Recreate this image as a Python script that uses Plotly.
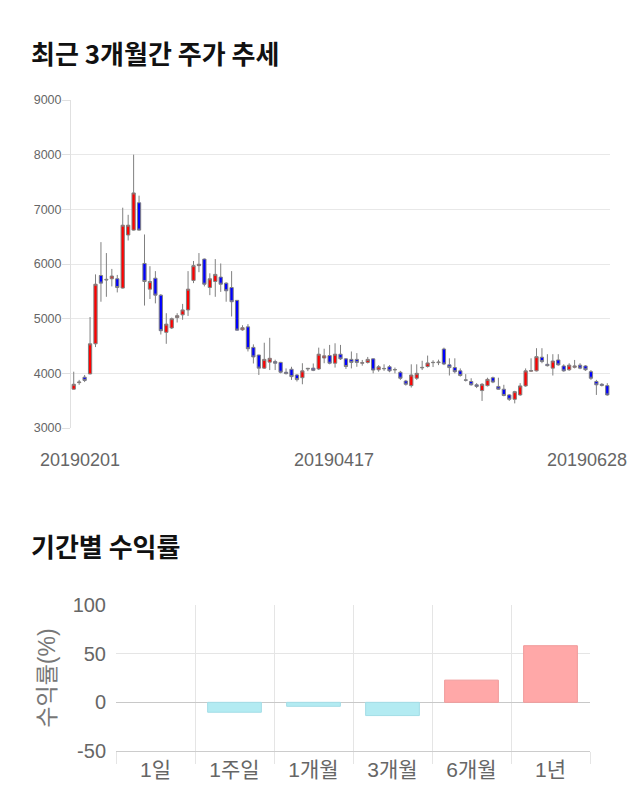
import plotly.graph_objects as go

# ---------------- data ----------------
dates = [
    "20190201", "20190207", "20190208", "20190211", "20190212", "20190213", "20190214", "20190215",
    "20190218", "20190219", "20190220", "20190221", "20190222", "20190225", "20190226", "20190227",
    "20190228", "20190304", "20190305", "20190306", "20190307", "20190308", "20190311", "20190312",
    "20190313", "20190314", "20190315", "20190318", "20190319", "20190320", "20190321", "20190322",
    "20190325", "20190326", "20190327", "20190328", "20190329", "20190401", "20190402", "20190403",
    "20190404", "20190405", "20190408", "20190409", "20190410", "20190411", "20190412", "20190415",
    "20190416", "20190417", "20190418", "20190419", "20190422", "20190423", "20190424", "20190425",
    "20190426", "20190429", "20190430", "20190502", "20190503", "20190507", "20190508", "20190509",
    "20190510", "20190513", "20190514", "20190515", "20190516", "20190517", "20190520", "20190521",
    "20190522", "20190523", "20190524", "20190527", "20190528", "20190529", "20190530", "20190531",
    "20190603", "20190604", "20190605", "20190607", "20190610", "20190611", "20190612", "20190613",
    "20190614", "20190617", "20190618", "20190619", "20190620", "20190621", "20190624", "20190625",
    "20190626", "20190627", "20190628",
]
opens = [
    3710, 3830, 3930, 3990, 4540, 5790, 5720, 5730, 5730, 5560, 6530, 6620, 7120, 6010, 5540, 5740,
    5430, 4750, 4830, 5020, 5070, 5160, 5700, 5970, 6090, 5570, 5680, 5760, 5650, 5570, 5335, 4795,
    4850, 4475, 4335, 4095, 4205, 4215, 4200, 4020, 4075, 3970, 3920, 4080, 4095, 4080, 4280, 4325,
    4185, 4350, 4265, 4255, 4255, 4185, 4200, 4265, 4065, 4090, 4120, 4070, 4020, 3860, 3775, 3910,
    4100, 4125, 4195, 4195, 4445, 4155, 4105, 4045, 3880, 3850, 3790, 3685, 3775, 3920, 3760, 3710,
    3605, 3525, 3605, 3770, 4040, 4045, 4295, 4165, 4095, 4245, 4135, 4065, 4110, 4150, 4135, 4030,
    3850, 3800, 3775,
]
highs = [
    4030, 3880, 3970, 5030, 5810, 6400, 6200, 5910, 5800, 7030, 6900, 8000, 7250, 6540, 5960, 5870,
    5450, 5100, 5020, 5100, 5270, 5870, 6055, 6200, 6100, 5830, 6090, 6010, 5665, 5870, 5340, 4880,
    4900, 4530, 4340, 4560, 4650, 4250, 4210, 4090, 4120, 3985, 4185, 4100, 4180, 4470, 4450, 4520,
    4550, 4520, 4280, 4400, 4370, 4245, 4300, 4275, 4150, 4165, 4150, 4105, 4045, 3880, 4165, 4165,
    4230, 4325, 4240, 4250, 4470, 4275, 4275, 4090, 3985, 3910, 3820, 3820, 3920, 3940, 3920, 3790,
    3620, 3680, 3820, 4090, 4275, 4460, 4460, 4350, 4350, 4350, 4165, 4185, 4245, 4185, 4150, 4060,
    3880, 3820, 3820,
]
lows = [
    3700, 3790, 3840, 3980, 4480, 5310, 5400, 5590, 5480, 5550, 6430, 6610, 6610, 5240, 5360, 5280,
    4710, 4540, 4810, 4930, 4980, 5050, 5650, 5850, 5590, 5430, 5400, 5490, 5310, 5040, 4780, 4780,
    4400, 4180, 3970, 4080, 4060, 4060, 4000, 3980, 3880, 3850, 3800, 4040, 4040, 4060, 4185, 4165,
    4105, 4245, 4080, 4090, 4120, 4140, 4180, 4000, 4030, 4045, 4020, 4000, 3880, 3775, 3740, 3880,
    4060, 4105, 4115, 4150, 4150, 3960, 4000, 3940, 3850, 3775, 3730, 3495, 3760, 3820, 3700, 3580,
    3495, 3450, 3590, 3755, 4030, 4035, 4185, 4125, 3960, 4140, 4030, 4045, 4090, 4075, 4045, 3880,
    3605, 3760, 3590,
]
closes = [
    3800, 3840, 3870, 4540, 5630, 5650, 5710, 5780, 5570, 6710, 6710, 7300, 6620, 5680, 5680, 5430,
    4780, 4900, 5000, 5055, 5160, 5540, 5970, 5995, 5630, 5730, 5810, 5630, 5510, 5310, 4790, 4835,
    4450, 4300, 4095, 4255, 4275, 4185, 4020, 3995, 3940, 3885, 4045, 4090, 4055, 4350, 4320, 4185,
    4350, 4265, 4125, 4200, 4200, 4195, 4255, 4060, 4120, 4085, 4045, 4065, 3910, 3800, 3970, 4000,
    4108, 4190, 4200, 4205, 4170, 4105, 4030, 3960, 3875, 3790, 3760, 3800, 3890, 3840, 3710, 3595,
    3525, 3665, 3770, 4045, 4050, 4305, 4215, 4140, 4225, 4155, 4045, 4150, 4135, 4095, 4065, 3910,
    3790, 3780, 3605,
]
date_ticks = ["20190201", "20190417", "20190628"]
date_tick_shift = [6, -7, -20]

periods = ["1일", "1주일", "1개월", "3개월", "6개월", "1년"]
returns = [0, -10.2, -4.1, -13.6, 22.8, 58.2]
return_ticks = [-50, 0, 50, 100]
return_ticktext = ["-50", "0", "50", "100"]

# ---------------- styles ----------------
KFONT = "Liberation Sans, Arial, Noto Sans CJK KR, sans-serif"
TFONT = "Noto Sans CJK KR, sans-serif"
W, H = 640, 810

def px_x(p):
    return p / W

def px_y(p):
    return 1 - p / H

fig = go.Figure()

fig.add_trace(go.Candlestick(
    x=dates, open=opens, high=highs, low=lows, close=closes,
    increasing=dict(fillcolor="#ff0000", line=dict(color="#808080", width=1)),
    decreasing=dict(fillcolor="#0000ff", line=dict(color="#808080", width=1)),
    whiskerwidth=0, showlegend=False, hoverinfo="skip",
    xaxis="x", yaxis="y",
))

bar_fill = ["#b3ebf2" if v < 0 else "#ffa8a8" for v in returns]
bar_line = ["#a3dde6" if v < 0 else "#f09a9a" for v in returns]
bar_line_w = [0 if v == 0 else 1 for v in returns]
fig.add_trace(go.Bar(
    x=periods, y=returns, width=0.68,
    marker=dict(color=bar_fill, line=dict(color=bar_line, width=bar_line_w)),
    showlegend=False, hoverinfo="skip",
    xaxis="x2", yaxis="y2",
))

annotations = [
    dict(text="최근 3개월간 주가 추세", xref="paper", yref="paper", x=px_x(29), y=px_y(52),
         xanchor="left", yanchor="middle", showarrow=False,
         font=dict(family=TFONT, size=26, color="#111111", weight=700)),
    dict(text="기간별 수익률", xref="paper", yref="paper", x=px_x(29), y=px_y(545),
         xanchor="left", yanchor="middle", showarrow=False,
         font=dict(family=TFONT, size=26, color="#111111", weight=700)),
]
for d, s in zip(date_ticks, date_tick_shift):
    annotations.append(dict(
        text=d, xref="x", yref="paper", x=dates.index(d), y=px_y(460), xshift=s,
        xanchor="center", yanchor="middle", showarrow=False,
        font=dict(family=KFONT, size=18, color="#666666"),
    ))

fig.update_layout(
    width=W, height=H, autosize=False,
    margin=dict(l=0, r=0, t=0, b=0, pad=0, autoexpand=False),
    paper_bgcolor="white", plot_bgcolor="white",
    showlegend=False,
    boxgap=0.15,
    font=dict(family=KFONT),
    annotations=annotations,
    xaxis=dict(
        domain=[px_x(71), px_x(610)], anchor="y", type="category",
        range=[-0.5, len(dates) - 0.5], automargin=False,
        showgrid=False, showticklabels=False, ticks="", showline=False,
        rangeslider=dict(visible=False), fixedrange=True,
    ),
    yaxis=dict(
        domain=[px_y(428), px_y(100)], anchor="x", automargin=False,
        range=[3000, 9000], dtick=1000, tick0=3000,
        showgrid=True, gridcolor="#e8e8e8", zeroline=False,
        showline=True, linecolor="#e0e0e0",
        ticks="outside", ticklen=8, tickcolor="#e0e0e0", ticklabelstandoff=-2,
        tickfont=dict(family=KFONT, size=12.5, color="#666666"),
    ),
    xaxis2=dict(
        domain=[px_x(116), px_x(590)], anchor="y2", type="category", automargin=False,
        tickson="boundaries", ticks="outside", ticklen=12, tickcolor="#e5e5e5",
        showgrid=True, gridcolor="#e5e5e5",
        showline=True, linecolor="#cccccc",
        tickfont=dict(family=KFONT, size=21, color="#666666"),
    ),
    yaxis2=dict(
        domain=[px_y(751), px_y(605)], anchor="x2", automargin=False,
        range=[-50, 100], tickvals=return_ticks, ticktext=return_ticktext,
        showgrid=True, gridcolor="#e5e5e5",
        zeroline=True, zerolinecolor="#c8c8c8", zerolinewidth=1,
        ticks="", ticklabelstandoff=9,
        tickfont=dict(family=KFONT, size=20, color="#666666"),
        title=dict(text="수익률(%)", standoff=10,
                   font=dict(family=KFONT, size=23, color="#777777")),
    ),
)

fig.write_html("out.html")
